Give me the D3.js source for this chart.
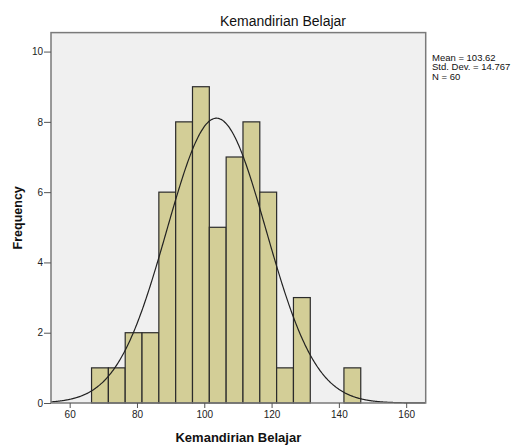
<!DOCTYPE html>
<html><head><meta charset="utf-8">
<script src="https://cdn.jsdelivr.net/npm/d3@7"></script>
<style>body{margin:0;background:#fff}svg{display:block}</style>
</head><body>
<svg id="c" width="513" height="447"></svg>
<script>
const binStarts = [66.5,71.5,76.5,81.5,86.5,91.5,96.5,101.5,106.5,111.5,116.5,121.5,126.5,131.5,136.5,141.5];
const frequencies = [1,1,2,2,6,8,9,5,7,8,6,1,3,0,0,1];
const binWidth = 5;
const xTicks = [60,80,100,120,140,160];
const yTicks = [0,2,4,6,8,10];
const mean = 103.62, sd = 14.767, n = 60;
const statLines = ["Mean = 103.62","Std. Dev. = 14.767","N = 60"];
const title = "Kemandirian Belajar", xLabel = "Kemandirian Belajar", yLabel = "Frequency";

const L = 51, R = 425.7, T = 32.6, B = 403;
const svg = d3.select("#c");
const font = "Arial, 'Liberation Sans', sans-serif";
const x = d3.scaleLinear().domain([54.45, 165.8]).range([L, R]);
const y = d3.scaleLinear().domain([0, 10.54]).range([B, T]);

svg.append("rect").attr("x",L).attr("y",T).attr("width",R-L).attr("height",B-T).attr("fill","#f0f0f0");

const bins = binStarts.map((s,i)=>({s, f: frequencies[i]})).filter(d=>d.f>0);
svg.append("g").selectAll("rect").data(bins).join("rect")
  .attr("x", d=>x(d.s)).attr("width", d=>x(d.s+binWidth)-x(d.s))
  .attr("y", d=>y(d.f)).attr("height", d=>y(0)-y(d.f))
  .attr("fill","#d3ce97").attr("stroke","#2b2b2b").attr("stroke-width",1.2);

const pts = d3.range(x.domain()[0], x.domain()[1]+0.01, 0.25).map(v=>[v, n*binWidth*Math.exp(-0.5*((v-mean)/sd)**2)/(sd*Math.sqrt(2*Math.PI))]);
svg.append("path").datum(pts).attr("d", d3.line().x(d=>x(d[0])).y(d=>y(d[1])).curve(d3.curveBasis))
  .attr("fill","none").attr("stroke","#222").attr("stroke-width",1.2);

svg.append("rect").attr("x",L).attr("y",T).attr("width",R-L).attr("height",B-T)
  .attr("fill","none").attr("stroke","#7a7a7a").attr("stroke-width",1.5);

const xa = svg.append("g").attr("transform",`translate(0,${B})`)
  .call(d3.axisBottom(x).tickValues(xTicks).tickSize(5).tickPadding(3).tickFormat(d3.format("d")));
const ya = svg.append("g").attr("transform",`translate(${L},0)`)
  .call(d3.axisLeft(y).tickValues(yTicks).tickSize(7).tickPadding(1).tickFormat(d3.format("d")));
[xa,ya].forEach(a=>{
  a.select(".domain").remove();
  a.selectAll("line").attr("stroke","#555");
  a.selectAll("text").attr("font-family",font).attr("font-size",10).attr("fill","#222");
});

svg.append("text").attr("x",283).attr("y",26).attr("text-anchor","middle")
  .attr("font-family",font).attr("font-size",14).attr("fill","#111").text(title);
svg.append("text").attr("x",(L+R)/2).attr("y",442).attr("text-anchor","middle")
  .attr("font-family",font).attr("font-size",13).attr("font-weight","bold").attr("fill","#111").text(xLabel);
svg.append("text").attr("transform",`translate(22,${(T+B)/2}) rotate(-90)`).attr("text-anchor","middle")
  .attr("font-family",font).attr("font-size",12.5).attr("font-weight","bold").attr("fill","#111").text(yLabel);

svg.append("g").selectAll("text").data(statLines).join("text")
  .attr("x",432).attr("y",(d,i)=>60.5+i*9.5)
  .attr("font-family",font).attr("font-size",9.5).attr("fill","#111").text(d=>d);
</script>
</body></html>
